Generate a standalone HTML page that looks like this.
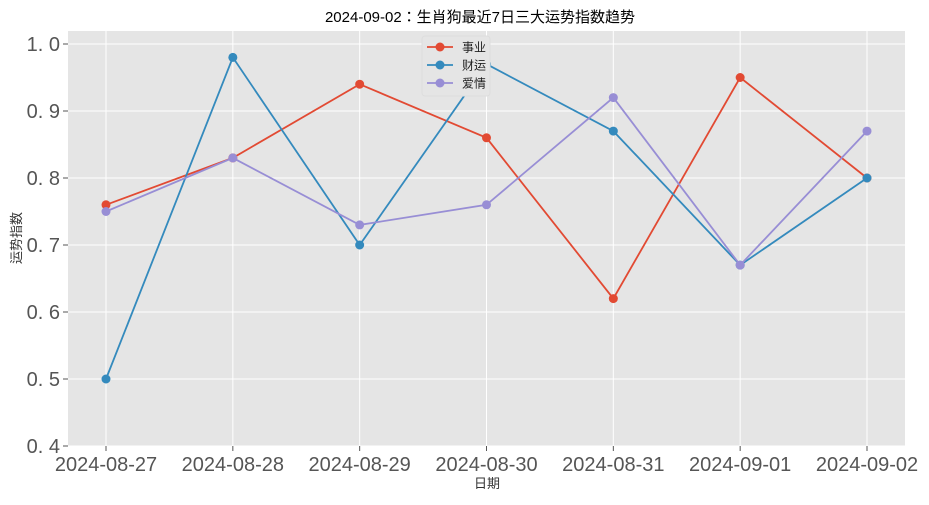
<!DOCTYPE html>
<html><head><meta charset="utf-8"><style>
body{margin:0;background:#fff;}
svg text{font-family:"Liberation Sans","Noto Sans CJK JP",sans-serif;}
</style></head><body>
<svg width="929" height="500" xmlns="http://www.w3.org/2000/svg">
<text x="480" y="22" text-anchor="middle" font-size="15" fill="#000">2024-09-02：生肖狗最近7日三大运势指数趋势</text>
<rect x="68" y="31" width="837" height="415" fill="#e5e5e5"/>
<g id="grid"></g><g id="axes"></g><g id="series"></g>
<text x="487" y="488" text-anchor="middle" font-size="13" fill="#333">日期</text>
<text transform="translate(21,238) rotate(-90)" text-anchor="middle" font-size="13" fill="#333">运势指数</text>
<g id="legend"></g>
</svg>
<script>
const categories=["2024-08-27","2024-08-28","2024-08-29","2024-08-30","2024-08-31","2024-09-01","2024-09-02"];
const seriesNames=["事业","财运","爱情"];
const career=[0.76,0.83,0.94,0.86,0.62,0.95,0.80];
const wealth=[0.50,0.98,0.70,0.97,0.87,0.67,0.80];
const love=[0.75,0.83,0.73,0.76,0.92,0.67,0.87];
const yTicks=[0.4,0.5,0.6,0.7,0.8,0.9,1.0];
const yTickLabels=["0. 4","0. 5","0. 6","0. 7","0. 8","0. 9","1. 0"];
const colors=["#e24a33","#348abd","#988ed5"];
const NS="http://www.w3.org/2000/svg";
const x=i=>106+i*(867-106)/(categories.length-1);
const y=v=>446-(v-0.4)*(446-44)/0.6;
function mk(tag,attrs,parent){const e=document.createElementNS(NS,tag);for(const k in attrs)e.setAttribute(k,attrs[k]);parent.appendChild(e);return e;}
const grid=document.getElementById('grid'),axes=document.getElementById('axes'),ser=document.getElementById('series');
yTicks.forEach((t,i)=>{
 const g=mk('line',{x1:68,x2:905,y1:y(t),y2:y(t),stroke:'#fff','stroke-width':1},grid);
 
 
 mk('line',{x1:63,x2:68,y1:y(t),y2:y(t),stroke:'#555'},axes);
 const tx=mk('text',{x:60,y:y(t)+7,'text-anchor':'end','font-size':20,fill:'#555'},axes);
 tx.textContent=yTickLabels[i];
 
 
});
categories.forEach((c,i)=>{
 const g=mk('line',{x1:x(i),x2:x(i),y1:31,y2:446,stroke:'#fff','stroke-width':1},grid);
 
 
 mk('line',{x1:x(i),x2:x(i),y1:446,y2:451,stroke:'#555'},axes);
 const tx=mk('text',{x:x(i),y:471,'text-anchor':'middle','font-size':20,fill:'#555'},axes);
 tx.textContent=c;
 
 
});
[career,wealth,love].forEach((d,s)=>{
 const g=mk('g',{},ser);
 
 
 const p=mk('polyline',{points:d.map((v,i)=>x(i)+','+y(v)).join(' '),fill:'none',stroke:colors[s],'stroke-width':1.8},g);
 
 
 d.forEach((v,i)=>{
  const c=mk('circle',{cx:x(i),cy:y(v),r:4.5,fill:colors[s]},g);
  
  
 });
});
const lg=document.getElementById('legend');
mk('rect',{x:422,y:36,width:68,height:60,fill:'#e5e5e5',stroke:'#ddd',rx:3},lg);
seriesNames.forEach((n,s)=>{
 const yy=47+s*18;
 mk('line',{x1:427,x2:453,y1:yy,y2:yy,stroke:colors[s],'stroke-width':1.8},lg);
 mk('circle',{cx:440,cy:yy,r:4.5,fill:colors[s]},lg);
 const t=mk('text',{x:462,y:yy+4.5,'font-size':12,fill:'#222'},lg);
 t.textContent=n;
 
 
});
</script>
</body></html>
